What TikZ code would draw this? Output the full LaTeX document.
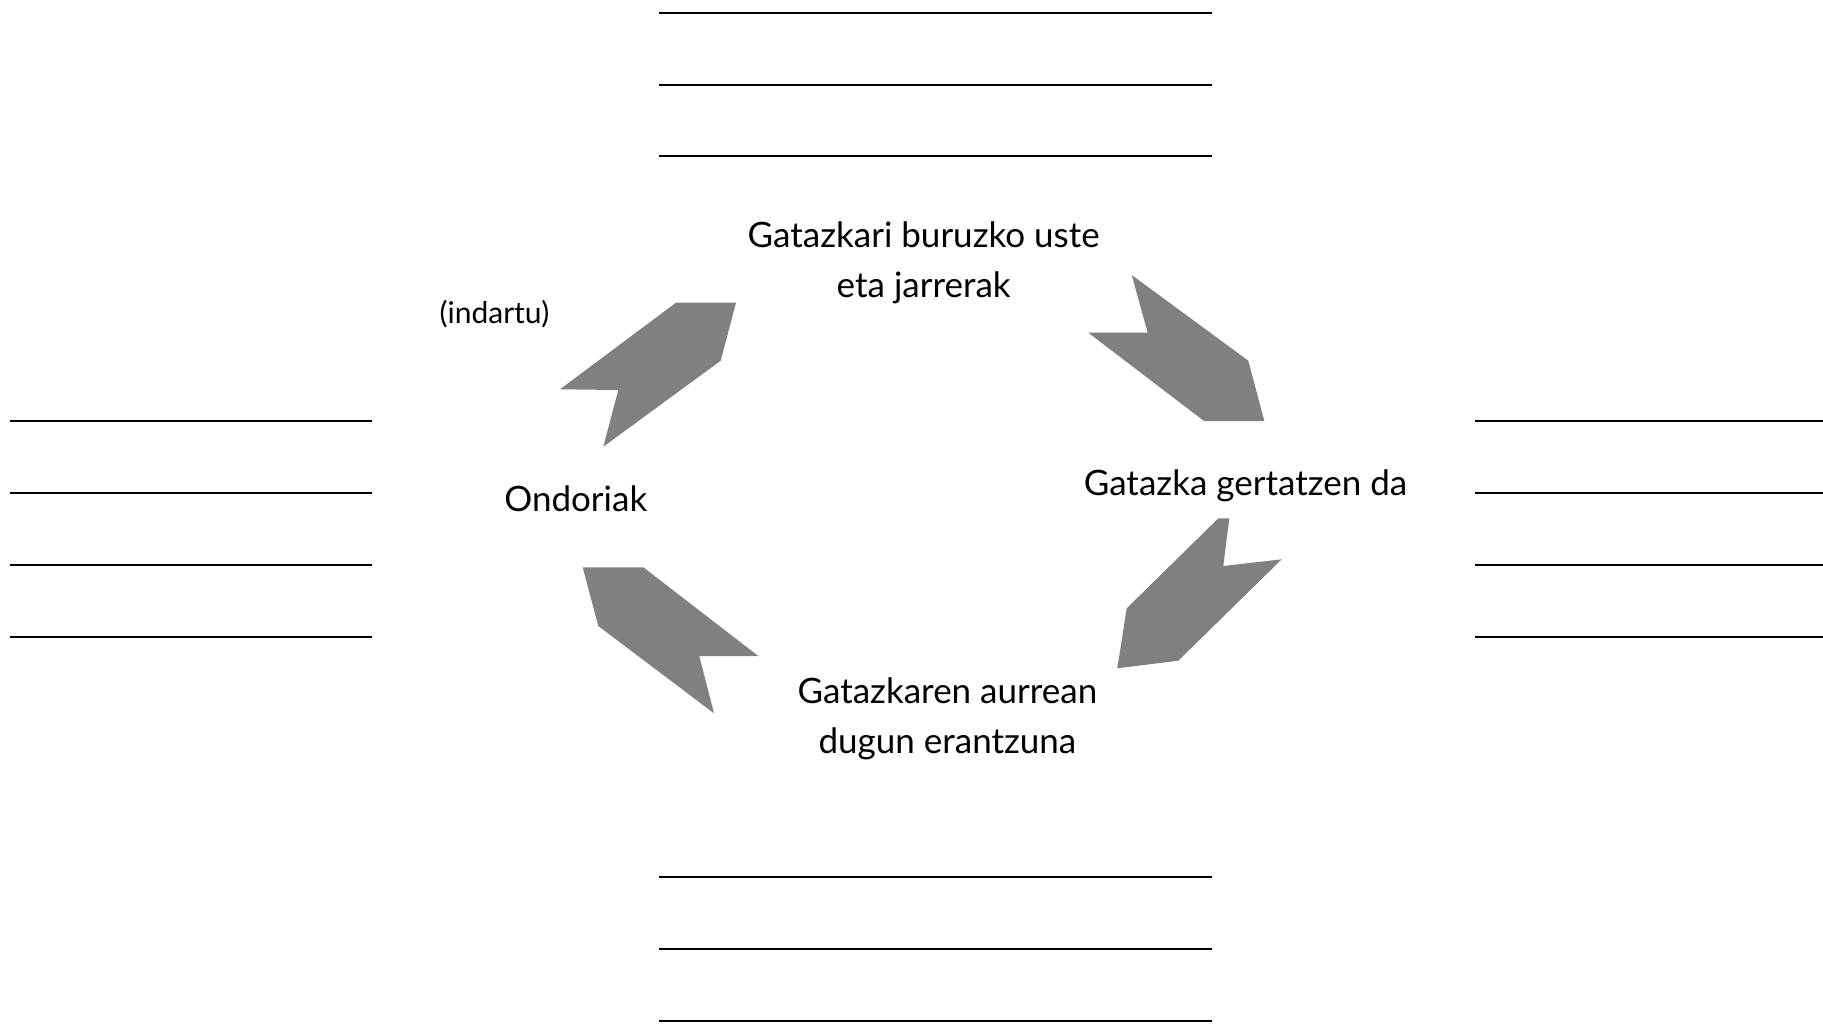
\documentclass[tikz,border=0pt]{standalone}
\usepackage{fontspec}
\setmainfont{Lato}
\begin{document}
\begin{tikzpicture}[x=1pt,y=-1pt,
  rule/.style={line width=2pt,black},
  chev/.style={fill=gray,draw=none},
  lbl/.style={anchor=base,inner sep=0pt,font=\fontsize{35}{42}\selectfont},
  small/.style={anchor=base,inner sep=0pt,font=\fontsize{30}{36}\selectfont}]
\useasboundingbox (0,0) rectangle (1823,1023);
% writing lines
\foreach \yy in {12.8,84.9,155.8,876.6,948.7,1020.8}
  \draw[rule] (659,\yy) -- (1212,\yy);
\foreach \yy in {421,493,565,637}{
  \draw[rule] (10,\yy) -- (372,\yy);
  \draw[rule] (1475,\yy) -- (1823,\yy);}
% chevron arrows
\fill[chev] (676,302.7) -- (736,302.7) -- (720.7,360.7) -- (603.3,446.7) -- (618.3,390) -- (560,389.3) -- cycle;
\fill[chev] (1131.7,275) -- (1147.7,332.7) -- (1088.3,332.7) -- (1204,421) -- (1264.3,421) -- (1248.3,360.7) -- cycle;
\fill[chev] (1218.3,518.3) -- (1229.3,518.3) -- (1223.3,566) -- (1281.7,559.3) -- (1178.3,660.7) -- (1117.3,668.3) -- (1126.7,608.3) -- cycle;
\fill[chev] (582.7,567.3) -- (643.3,567.3) -- (758.3,656) -- (699.3,656) -- (714,713.3) -- (598.3,626) -- cycle;
% texts
\node[lbl] (t1a) at (923.7,247) {Gatazkari buruzko uste};
\node[lbl] (t1b) at (923.7,297) {eta jarrerak};
\node[lbl] (t2) at (1245.5,495) {Gatazka gertatzen da};
\node[lbl] (t3a) at (947.4,703) {Gatazkaren aurrean};
\node[lbl] (t3b) at (947.4,753) {dugun erantzuna};
\node[lbl] (t4) at (575.8,511) {Ondoriak};
\node[small] (t5) at (494.5,323) {(indartu)};
\end{tikzpicture}
\end{document}
